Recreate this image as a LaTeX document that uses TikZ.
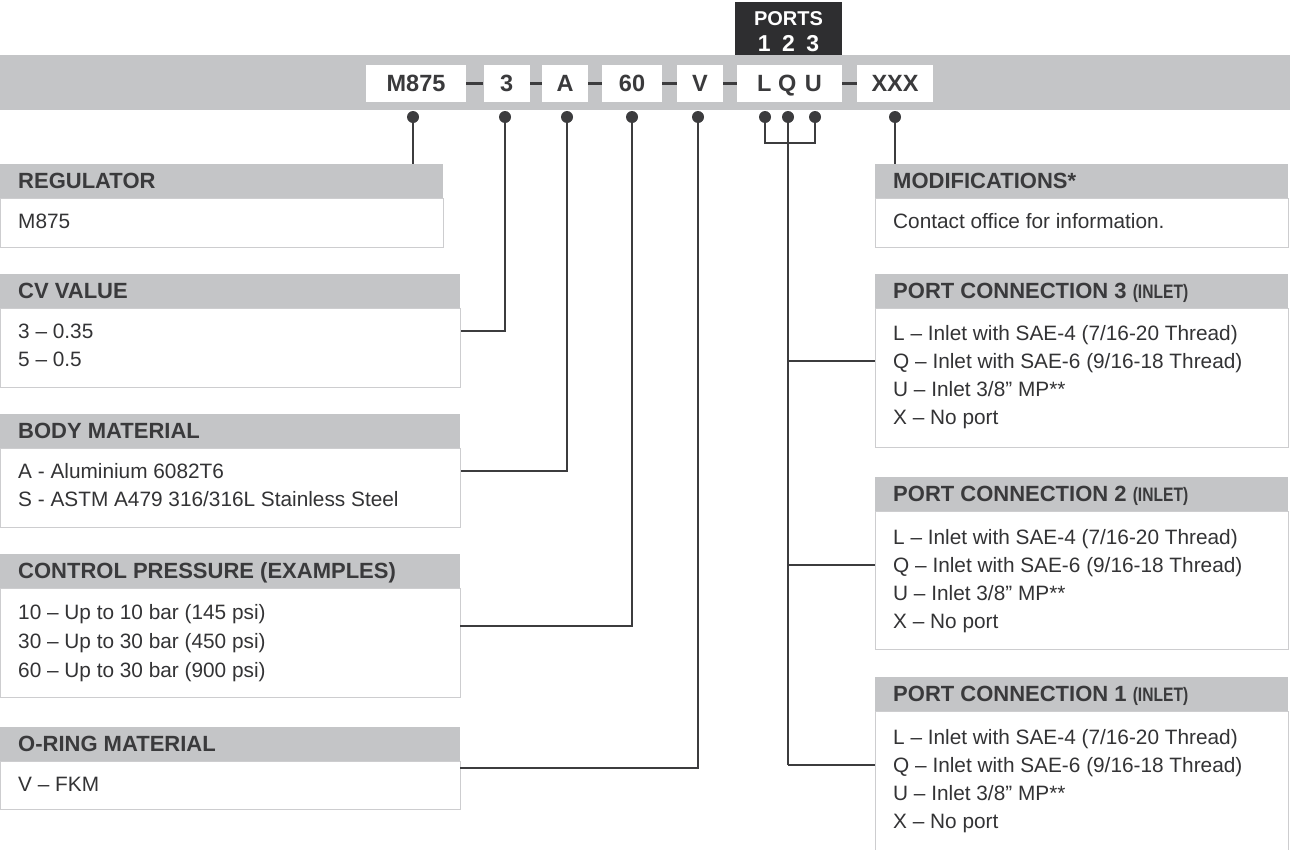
\documentclass[tikz,border=0pt]{standalone}
\usepackage{fontspec}
\setmainfont{Liberation Sans}
\newfontfamily\condfont[FakeStretch=0.8]{Liberation Sans}
\definecolor{bargray}{HTML}{C4C5C7}
\definecolor{txtdark}{HTML}{3A3A3C}
\definecolor{linedark}{HTML}{3C3C3E}
\definecolor{bordergray}{HTML}{CDCDCF}
\definecolor{portsdark}{HTML}{2E2E30}
\definecolor{bodyink}{HTML}{333335}
\tikzset{
  hdrbox/.style={fill=bargray, inner sep=0pt, anchor=north west, minimum height=34pt},
  bodybox/.style={fill=white, draw=bordergray, line width=1.2pt, inner sep=0pt, anchor=north west},
  hdrtxt/.style={anchor=west, inner sep=0pt, text=txtdark, text height=15.7pt, text depth=0pt,
    font=\fontsize{22}{24}\selectfont\bfseries},
  bodytxt/.style={anchor=west, inner sep=0pt, text=bodyink, text height=14.9pt, text depth=0pt,
    font=\fontsize{20.8}{23}\selectfont},
  topbox/.style={fill=white, inner sep=0pt, minimum height=37pt, text=txtdark,
    text height=16.8pt, text depth=0pt, font=\fontsize{23.5}{26}\selectfont\bfseries},
  portstxt/.style={inner sep=0pt, text=white, text depth=0pt},
  conn/.style={draw=linedark, line width=1.3pt},
  dashline/.style={draw=linedark, line width=3pt},
  pin/.style={circle, fill=linedark, inner sep=0pt, minimum size=12pt}
}
\newcommand{\inletlbl}{{\condfont\fontsize{19.5}{22}\selectfont\bfseries (INLET)}}
\begin{document}
\begin{tikzpicture}[x=1pt,y=-1pt]
\useasboundingbox (0,0) rectangle (1290,849);

% top bar
\node[fill=bargray, minimum width=1290pt, minimum height=55pt, inner sep=0pt, anchor=north west] (bar) at (0,55) {};
\node[fill=portsdark, minimum width=107pt, minimum height=53pt, inner sep=0pt, anchor=north west] (ports) at (735,2) {};
\node[portstxt, text height=14.3pt, font=\fontsize{20}{22}\selectfont\bfseries] (portsT) at (788.5,18) {PORTS};
\node[portstxt, text height=16.5pt, font=\fontsize{23}{25}\selectfont\bfseries] (portsN) at (788.5,43) {1\hspace{11.5pt}2\hspace{11.5pt}3};

\node[topbox, minimum width=100pt] (tM) at (416,83.5) {M875};
\node[topbox, minimum width=46.5pt] (t3) at (506.75,83.5) {3};
\node[topbox, minimum width=46pt] (tA) at (565,83.5) {A};
\node[topbox, minimum width=60pt] (t60) at (632,83.5) {60};
\node[topbox, minimum width=46pt] (tV) at (700,83.5) {V};
\node[topbox, minimum width=105pt] (tL) at (789.5,83.5) {L\hspace{6.5pt}Q\hspace{8.5pt}U};
\node[topbox, minimum width=76pt] (tX) at (895,83.5) {XXX};
\draw[dashline] (tM.east) -- (t3.west);
\draw[dashline] (t3.east) -- (tA.west);
\draw[dashline] (tA.east) -- (t60.west);
\draw[dashline] (t60.east) -- (tV.west);
\draw[dashline] (tV.east) -- (tL.west);
\draw[dashline] (tL.east) -- (tX.west);

% left column boxes
\node[bodybox, minimum width=443pt, minimum height=49pt] (regB) at (0,198) {};
\node[hdrbox, minimum width=443pt] (regH) at (0,164) {};
\node[hdrtxt] (regT) at (18,181) {REGULATOR};
\node[bodytxt] (regL1) at (18,221) {M875};

\node[bodybox, minimum width=460pt, minimum height=79pt] (cvB) at (0,308) {};
\node[hdrbox, minimum width=460pt] (cvH) at (0,274) {};
\node[hdrtxt] (cvT) at (18,291) {CV VALUE};
\node[bodytxt] (cvL1) at (18,331) {3 – 0.35};
\node[bodytxt] (cvL2) at (18,359) {5 – 0.5};

\node[bodybox, minimum width=460pt, minimum height=79pt] (bmB) at (0,448) {};
\node[hdrbox, minimum width=460pt] (bmH) at (0,414) {};
\node[hdrtxt] (bmT) at (18,431) {BODY MATERIAL};
\node[bodytxt] (bmL1) at (18,471) {A - Aluminium 6082T6};
\node[bodytxt] (bmL2) at (18,499) {S - ASTM A479 316/316L Stainless Steel};

\node[bodybox, minimum width=460pt, minimum height=109pt] (cpB) at (0,588) {};
\node[hdrbox, minimum width=460pt] (cpH) at (0,554) {};
\node[hdrtxt] (cpT) at (18,571) {CONTROL PRESSURE (EXAMPLES)};
\node[bodytxt] (cpL1) at (18,612) {10 – Up to 10 bar (145 psi)};
\node[bodytxt] (cpL2) at (18,641) {30 – Up to 30 bar (450 psi)};
\node[bodytxt] (cpL3) at (18,670) {60 – Up to 30 bar (900 psi)};

\node[bodybox, minimum width=460pt, minimum height=48pt] (orB) at (0,761) {};
\node[hdrbox, minimum width=460pt] (orH) at (0,727) {};
\node[hdrtxt] (orT) at (18,744) {O-RING MATERIAL};
\node[bodytxt] (orL1) at (18,784) {V – FKM};

% right column boxes
\node[bodybox, minimum width=413pt, minimum height=49pt] (modB) at (875,198) {};
\node[hdrbox, minimum width=413pt] (modH) at (875,164) {};
\node[hdrtxt] (modT) at (893,181) {MODIFICATIONS*};
\node[bodytxt] (modL1) at (893,221) {Contact office for information.};

\node[bodybox, minimum width=413pt, minimum height=139pt] (pc3B) at (875,308) {};
\node[hdrbox, minimum width=413pt] (pc3H) at (875,274) {};
\node[hdrtxt] (pc3T) at (893,291) {PORT CONNECTION 3 \inletlbl};
\node[bodytxt] (pc3L1) at (893,333) {L – Inlet with SAE-4 (7/16-20 Thread)};
\node[bodytxt] (pc3L2) at (893,361) {Q – Inlet with SAE-6 (9/16-18 Thread)};
\node[bodytxt] (pc3L3) at (893,389) {U – Inlet 3/8” MP**};
\node[bodytxt] (pc3L4) at (893,417) {X – No port};

\node[bodybox, minimum width=413pt, minimum height=138pt] (pc2B) at (875,511) {};
\node[hdrbox, minimum width=413pt] (pc2H) at (875,477) {};
\node[hdrtxt] (pc2T) at (893,494) {PORT CONNECTION 2 \inletlbl};
\node[bodytxt] (pc2L1) at (893,537) {L – Inlet with SAE-4 (7/16-20 Thread)};
\node[bodytxt] (pc2L2) at (893,565) {Q – Inlet with SAE-6 (9/16-18 Thread)};
\node[bodytxt] (pc2L3) at (893,593) {U – Inlet 3/8” MP**};
\node[bodytxt] (pc2L4) at (893,621) {X – No port};

\node[bodybox, minimum width=413pt, minimum height=150pt] (pc1B) at (875,711) {};
\node[hdrbox, minimum width=413pt] (pc1H) at (875,677) {};
\node[hdrtxt] (pc1T) at (893,694) {PORT CONNECTION 1 \inletlbl};
\node[bodytxt] (pc1L1) at (893,737) {L – Inlet with SAE-4 (7/16-20 Thread)};
\node[bodytxt] (pc1L2) at (893,765) {Q – Inlet with SAE-6 (9/16-18 Thread)};
\node[bodytxt] (pc1L3) at (893,793) {U – Inlet 3/8” MP**};
\node[bodytxt] (pc1L4) at (893,821) {X – No port};

% pins
\node[pin] (pM) at (413,117) {};
\node[pin] (p3) at (505,117) {};
\node[pin] (pA) at (567,117) {};
\node[pin] (p60) at (632,117) {};
\node[pin] (pV) at (698,117) {};
\node[pin] (pL) at (765,117) {};
\node[pin] (pQ) at (788,117) {};
\node[pin] (pU) at (815,117) {};
\node[pin] (pX) at (895,117) {};

% connector junctions
\coordinate (cpJ) at (460,626);
\coordinate (orJ) at (460,768);
\coordinate (brL) at (765,143);

% connectors
\draw[conn] (pM) -- (pM |- regH.north);
\draw[conn] (p3) |- (cvB.east |- cvL1);
\draw[conn] (pA) |- (bmB.east |- bmL1);
\draw[conn] (p60) |- (cpJ);
\draw[conn] (pV) |- (orJ);
\draw[conn] (pL) -- (brL) -| (pU);
\draw[conn] (pQ) -- (pQ |- pc1L2);
\draw[conn] (pQ |- pc3L2) -- (pc3B.west |- pc3L2);
\draw[conn] (pQ |- pc2L2) -- (pc2B.west |- pc2L2);
\draw[conn] (pQ |- pc1L2) -- (pc1B.west |- pc1L2);
\draw[conn] (pX) -- (pX |- modH.north);
\end{tikzpicture}
\end{document}
